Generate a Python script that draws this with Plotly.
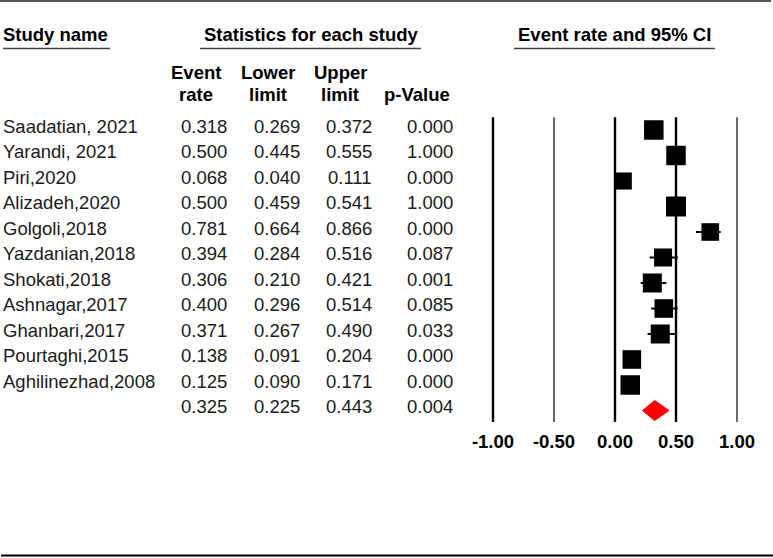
import plotly.graph_objects as go

# ---------------- data ----------------
studies = ["Saadatian, 2021", "Yarandi, 2021", "Piri,2020", "Alizadeh,2020",
           "Golgoli,2018", "Yazdanian,2018", "Shokati,2018", "Ashnagar,2017",
           "Ghanbari,2017", "Pourtaghi,2015", "Aghilinezhad,2008"]
event_rate = [0.318, 0.500, 0.068, 0.500, 0.781, 0.394, 0.306, 0.400, 0.371, 0.138, 0.125]
lower_limit = [0.269, 0.445, 0.040, 0.459, 0.664, 0.284, 0.210, 0.296, 0.267, 0.091, 0.090]
upper_limit = [0.372, 0.555, 0.111, 0.541, 0.866, 0.516, 0.421, 0.514, 0.490, 0.204, 0.171]
p_value = [0.000, 1.000, 0.000, 1.000, 0.000, 0.087, 0.001, 0.085, 0.033, 0.000, 0.000]
rel_weight = [9.8, 9.8, 7.5, 10.3, 8.0, 8.4, 9.3, 8.9, 9.3, 8.9, 9.8]  # relative weights (%)

pooled_rate = 0.325
pooled_lower = 0.225
pooled_upper = 0.443
pooled_p = 0.004

tick_values = [-1.0, -0.5, 0.0, 0.5, 1.0]
tick_labels = ["-1.00", "-0.50", "0.00", "0.50", "1.00"]

# ---------------- layout geometry ----------------
W, H = 773, 558
FONT = "Liberation Sans, Arial, sans-serif"
FS = 18.5
TXT = "#1a1a1a"

n = len(studies)
row_y = [-i for i in range(n)]
pooled_y = -n

x0_px, unit_px = 615.0, 122.0
x_range = [-x0_px / unit_px, (W - x0_px) / unit_px]
row0_px, row_px = 130.0, 25.5
axis_bottom_px = 422.0
y_top = row0_px / row_px
y_bottom = -(axis_bottom_px - row0_px) / row_px


def px(x):
    return x / W


def py(y):
    return 1 - y / H


fig = go.Figure()

# study boxes with CIs
max_w = max(rel_weight)
sizes = [20.0 * (w / max_w) ** 0.5 for w in rel_weight]
fig.add_trace(go.Scatter(
    x=event_rate, y=row_y, mode="markers",
    marker=dict(symbol="square", size=sizes, color="black", opacity=1,
                line=dict(width=0)),
    error_x=dict(type="data", symmetric=False,
                 array=[u - r for u, r in zip(upper_limit, event_rate)],
                 arrayminus=[r - l for r, l in zip(event_rate, lower_limit)],
                 thickness=2, width=0, color="black"),
    showlegend=False, hoverinfo="skip"))

# pooled diamond
dh = 10.0 / row_px
fig.add_trace(go.Scatter(
    x=[pooled_lower, pooled_rate, pooled_upper, pooled_rate, pooled_lower],
    y=[pooled_y, pooled_y + dh, pooled_y, pooled_y - dh, pooled_y],
    mode="lines", fill="toself", fillcolor="#ff0000",
    line=dict(color="#ff0000", width=1), showlegend=False, hoverinfo="skip"))

shapes = []
for v in tick_values:
    thick = v in (-1.0, 0.0, 0.5)
    shapes.append(dict(type="line", xref="x", yref="y", x0=v, x1=v,
                       y0=0.5, y1=y_bottom,
                       line=dict(color="black" if thick else "#444444",
                                 width=2.4 if thick else 1.6), layer="below"))
shapes.append(dict(type="line", xref="paper", yref="paper", x0=0, x1=px(771),
                   y0=py(1), y1=py(1), line=dict(color="#555555", width=2)))
shapes.append(dict(type="line", xref="paper", yref="paper", x0=px(1), x1=1,
                   y0=py(555.5), y1=py(555.5), line=dict(color="black", width=2.2)))
for a, b in [(3, 110), (200, 421), (514, 715)]:
    shapes.append(dict(type="line", xref="paper", yref="paper", x0=px(a), x1=px(b),
                       y0=py(48.5), y1=py(48.5), line=dict(color="#444444", width=1.6)))

ann = []


def add_text(text, x, y, anchor, bold=False, yref="paper", yshift=0):
    ann.append(dict(text=text, x=x, y=y, xref="paper", yref=yref,
                    xanchor=anchor, yanchor="middle", showarrow=False,
                    borderpad=0, borderwidth=0, yshift=yshift,
                    font=dict(family=FONT, size=FS, color="black" if bold else TXT,
                              weight="bold" if bold else "normal")))


add_text("Study name", px(3), py(35), "left", bold=True)
add_text("Statistics for each study", px(311), py(35), "center", bold=True)
add_text("Event rate and 95% CI", px(614.5), py(35), "center", bold=True)
for cx, l1, l2 in [(196, "Event", "rate"), (268, "Lower", "limit"), (340, "Upper", "limit")]:
    add_text(l1, px(cx), py(72), "center", bold=True)
    add_text(l2, px(cx), py(94), "center", bold=True)
add_text("p-Value", px(417), py(94), "center", bold=True)

col_right = [227, 300, 372, 453]
for i, name in enumerate(studies):
    add_text(name, px(3), row_y[i], "left", yref="y", yshift=4)
    for cx, val in zip(col_right, [event_rate[i], lower_limit[i], upper_limit[i], p_value[i]]):
        add_text(f"{val:.3f}", px(cx), row_y[i], "right", yref="y", yshift=4)
for cx, val in zip(col_right, [pooled_rate, pooled_lower, pooled_upper, pooled_p]):
    add_text(f"{val:.3f}", px(cx), pooled_y, "right", yref="y", yshift=4)

fig.update_layout(
    width=W, height=H, margin=dict(l=0, r=0, t=0, b=0),
    paper_bgcolor="white", plot_bgcolor="white",
    xaxis=dict(range=x_range, domain=[0, 1], showgrid=False, zeroline=False,
               showline=False, ticks="", tickvals=tick_values, ticktext=tick_labels,
               tickfont=dict(family=FONT, size=FS, color="black", weight="bold"),
               ticklabelstandoff=6, fixedrange=True),
    yaxis=dict(range=[y_bottom, y_top], domain=[1 - axis_bottom_px / H, 1],
               visible=False, fixedrange=True),
    shapes=shapes, annotations=ann, showlegend=False,
)

fig.write_html("out.html", config={"displayModeBar": False},
               post_script="document.body.style.margin='0px';document.body.style.overflow='hidden';")
